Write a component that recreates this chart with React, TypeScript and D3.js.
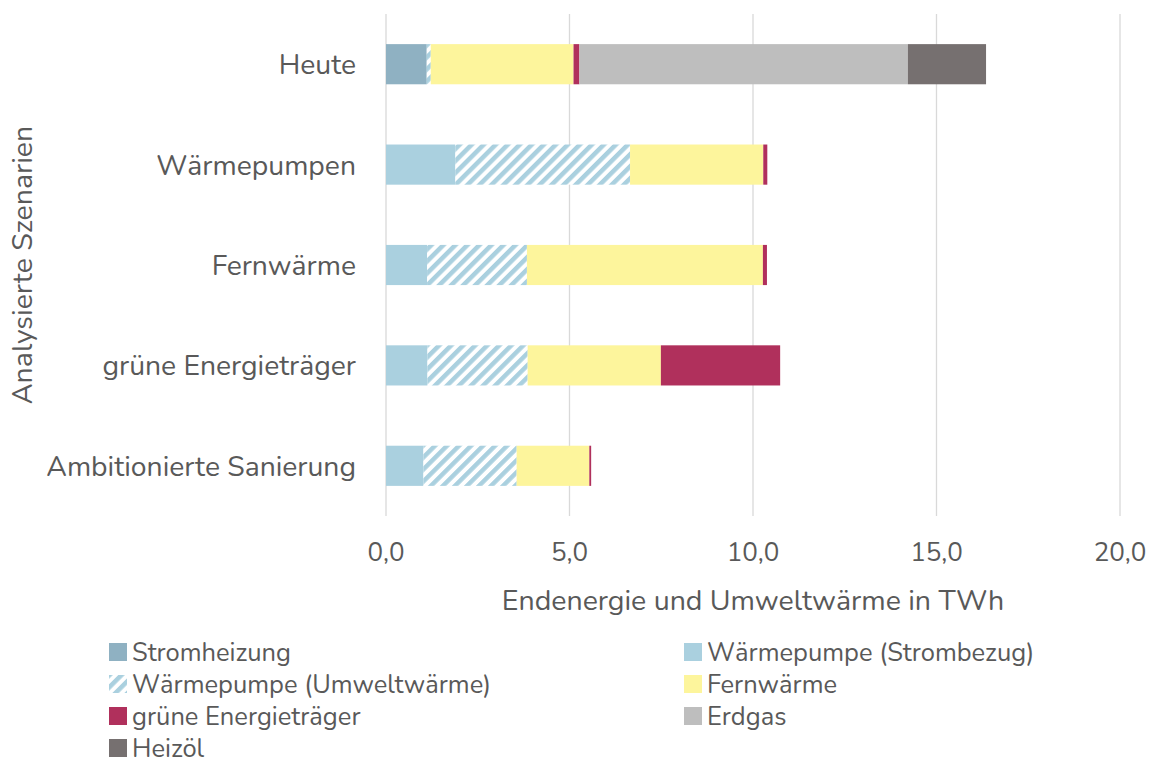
import React from 'react';
import { scaleLinear, scaleBand, stack } from 'd3';

const W = 1150;
const H = 758;

const scenarios = ['Heute', 'Wärmepumpen', 'Fernwärme', 'grüne Energieträger', 'Ambitionierte Sanierung'];
const seriesNames = ['Stromheizung', 'Wärmepumpe (Strombezug)', 'Wärmepumpe (Umweltwärme)', 'Fernwärme', 'grüne Energieträger', 'Erdgas', 'Heizöl'];
const seriesColors = ['#8fb1c2', '#aad0df', 'url(#hatch)', '#fdf59c', '#b0305c', '#bebebe', '#767070'];

const stromheizung = [1.11, 0, 0, 0, 0];
const wpStrom = [0, 1.89, 1.12, 1.13, 1.02];
const wpUmwelt = [0.11, 4.76, 2.72, 2.73, 2.54];
const fernwaerme = [3.89, 3.63, 6.43, 3.63, 1.98];
const gruene = [0.16, 0.11, 0.11, 3.25, 0.05];
const erdgas = [8.95, 0, 0, 0, 0];
const heizoel = [2.13, 0, 0, 0, 0];
const xTicks = [0, 5, 10, 15, 20];

const rows = scenarios.map((s, i) => ({
  name: s,
  s0: stromheizung[i], s1: wpStrom[i], s2: wpUmwelt[i], s3: fernwaerme[i],
  s4: gruene[i], s5: erdgas[i], s6: heizoel[i],
}));

const margin = { left: 386, right: 30, top: 14, bottom: 242 };
const font = 'Nunito, Lato, "Open Sans", sans-serif';
const textColor = '#595959';

const App = () => {
  const x = scaleLinear().domain([0, 20]).range([margin.left, 1120]);
  const y = scaleBand().domain(scenarios).range([margin.top, H - margin.bottom]).paddingInner(0.6).paddingOuter(0.3);
  const series = stack().keys(['s0', 's1', 's2', 's3', 's4', 's5', 's6'])(rows as any);

  const legendColX = [109, 684];
  const legendRowY = [652, 684, 716, 748];

  return (
    <svg width={W} height={H} style={{ position: 'absolute', left: 0, top: 0, background: '#fff' }}>
      <defs>
        <pattern id="hatch" patternUnits="userSpaceOnUse" width={8.5} height={8.5} patternTransform="rotate(45)">
          <rect width={8.5} height={8.5} fill="#fff" />
          <rect width={4.5} height={8.5} fill="#aad0df" />
        </pattern>
      </defs>
      {xTicks.map(t => (
        <g key={t}>
          <line x1={x(t)} x2={x(t)} y1={margin.top} y2={516} stroke="#d9d9d9" strokeWidth={1.3} />
          <text x={x(t)} y={552} dy="0.35em" textAnchor="middle" fontSize={26} fill={textColor} fontFamily={font}>
            {t.toFixed(1).replace('.', ',')}
          </text>
        </g>
      ))}
      {series.map((ser, si) => (
        <g key={si} fill={seriesColors[si]}>
          {ser.map((d, i) => (
            d[1] - d[0] > 0 ? (
              <rect key={i} x={x(d[0])} width={x(d[1]) - x(d[0])} y={y(scenarios[i])!} height={y.bandwidth()} />
            ) : null
          ))}
        </g>
      ))}
      {scenarios.map(s => (
        <text key={s} x={356} y={y(s)! + y.bandwidth() / 2} dy="0.35em" textAnchor="end" fontSize={28.3} fill={textColor} fontFamily={font}>
          {s}
        </text>
      ))}
      <text transform={`translate(22, ${(margin.top + 516) / 2}) rotate(-90)`} dy="0.35em" textAnchor="middle" fontSize={28.5} fill={textColor} fontFamily={font}>
        Analysierte Szenarien
      </text>
      <text x={(x(0) + x(20)) / 2} y={600} dy="0.35em" textAnchor="middle" fontSize={28.5} fill={textColor} fontFamily={font}>
        Endenergie und Umweltwärme in TWh
      </text>
      {seriesNames.map((name, k) => {
        const col = k % 2;
        const row = Math.floor(k / 2);
        const lx = legendColX[col];
        const ly = legendRowY[row];
        return (
          <g key={k}>
            <rect x={lx} y={ly - 9} width={18} height={18} fill={seriesColors[k]} />
            <text x={lx + 23} y={ly} dy="0.35em" fontSize={25.5} fill={textColor} fontFamily={font}>
              {name}
            </text>
          </g>
        );
      })}
    </svg>
  );
};

export default App;
